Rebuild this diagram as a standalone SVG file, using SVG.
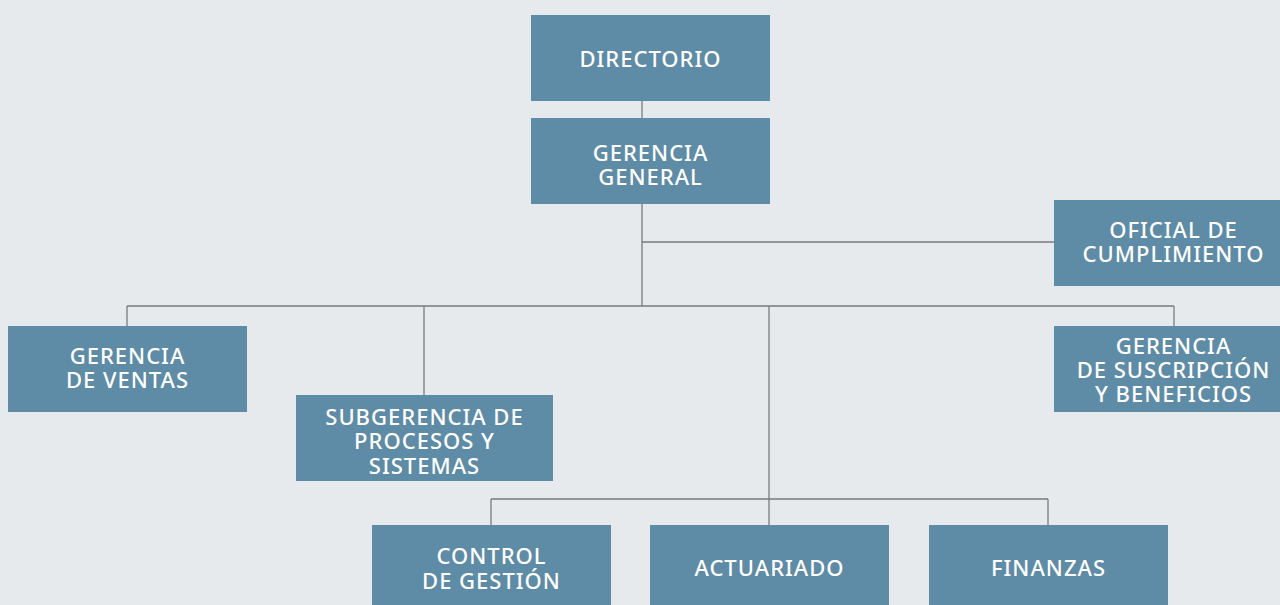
<svg xmlns="http://www.w3.org/2000/svg" width="1280" height="605" viewBox="0 0 1280 605">
<style>
.box{fill:#5E8BA5}
.t{font-family:"Noto Sans","DejaVu Sans",sans-serif;font-size:22px;font-weight:500;fill:#ffffff;text-anchor:middle;letter-spacing:1px}
.c{stroke:#7a7a7a;stroke-width:1.3;fill:none}
</style>
<rect width="1280" height="605" fill="#E6EAED"/>
<g id="connectors">
<path class="c" d="M642 101V118M642 204V306M642 242H1054M127 306H1174M127 306V326M424 306V395M769 306V525M1174 306V326M491 499H1048M491 499V525M1048 499V525"/>
</g>
<g id="directorio"><rect class="box" x="531" y="15" width="239" height="86"/><text class="t" x="650.5" y="67">DIRECTORIO</text></g>
<g id="gerencia-general"><rect class="box" x="531" y="118" width="239" height="86"/><text class="t" x="650.5" y="161">GERENCIA</text><text class="t" x="650.5" y="185">GENERAL</text></g>
<g id="oficial"><rect class="box" x="1054" y="200" width="239" height="86"/><text class="t" x="1173.5" y="238">OFICIAL DE</text><text class="t" x="1173.5" y="262">CUMPLIMIENTO</text></g>
<g id="ventas"><rect class="box" x="8" y="326" width="239" height="86"/><text class="t" x="127.5" y="364">GERENCIA</text><text class="t" x="127.5" y="388">DE VENTAS</text></g>
<g id="subgerencia"><rect class="box" x="296" y="395" width="257" height="86"/><text class="t" x="424.5" y="425">SUBGERENCIA DE</text><text class="t" x="424.5" y="449">PROCESOS Y</text><text class="t" x="424.5" y="474">SISTEMAS</text></g>
<g id="suscripcion"><rect class="box" x="1054" y="326" width="239" height="86"/><text class="t" x="1173.5" y="354">GERENCIA</text><text class="t" x="1173.5" y="378">DE SUSCRIPCIÓN</text><text class="t" x="1173.5" y="402">Y BENEFICIOS</text></g>
<g id="control"><rect class="box" x="372" y="525" width="239" height="86"/><text class="t" x="491.5" y="564">CONTROL</text><text class="t" x="491.5" y="589">DE GESTIÓN</text></g>
<g id="actuariado"><rect class="box" x="650" y="525" width="239" height="86"/><text class="t" x="769.5" y="576">ACTUARIADO</text></g>
<g id="finanzas"><rect class="box" x="929" y="525" width="239" height="86"/><text class="t" x="1048.5" y="576">FINANZAS</text></g>
</svg>
